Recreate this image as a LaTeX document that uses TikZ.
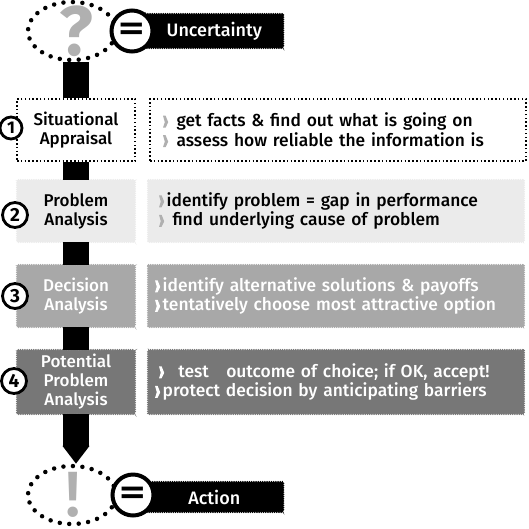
\documentclass[tikz,border=0pt]{standalone}
\usepackage{fontspec}
\setmainfont{Fira Sans}[UprightFont=* Medium, BoldFont=* Bold]
\newfontfamily\dejavu{DejaVu Sans}
\usetikzlibrary{shapes.geometric,decorations.pathmorphing,arrows.meta}

\definecolor{paleg}{HTML}{EBEBEB}
\definecolor{midg}{HTML}{A8A8A8}
\definecolor{darkg}{HTML}{777777}
\definecolor{markg}{HTML}{B0B0B0}

% bullet in front of each line
\newcommand{\tick}[1]{\tikz[x=1pt, y=1pt, baseline=0pt] \fill[#1] (0,-1) -- (2.6,-1) -- (5.2,4.5) -- (2.6,11) -- (0,11) -- (1.8,4.5) -- cycle;\hspace{2.5pt}}

\tikzset{
  stamp/.style={decorate, decoration={zigzag, segment length=2.2pt, amplitude=0.7pt}, line width=0.6pt},
  dotbox/.style={draw, line width=1.8pt, dash pattern=on 1.5pt off 2.3pt, fill=white},
  stepbox/.style={minimum width=118pt, minimum height=62pt, inner sep=2pt, align=center, font=\fontsize{17}{19}\selectfont},
  infobox/.style={minimum width=376pt, minimum height=62pt, text width=362pt, inner xsep=7pt, align=left, font=\fontsize{17.4}{19.5}\selectfont},
  numc/.style={circle, draw, line width=2.8pt, fill=white, minimum size=25pt, inner sep=0pt, font=\fontsize{19}{19}\selectfont\bfseries},
  dotring/.style={ellipse, draw, line width=4.5pt, dash pattern=on 0pt off 9.5pt, line cap=round, minimum width=88pt, minimum height=58pt},
  banner/.style={anchor=west, fill=black, draw=black, stamp, text=white, minimum width=138pt, minimum height=34pt, inner sep=0pt, font=\fontsize{18}{18}\selectfont},
  eqc/.style={circle, draw, line width=4pt, fill=white, minimum size=41pt, inner sep=0pt, font=\dejavu\bfseries\fontsize{34}{34}\selectfont},
  bar/.style={line width=26pt},
}

\begin{document}
\begin{tikzpicture}[x=1pt, y=-1pt]
    \useasboundingbox (0,0) rectangle (529,528);

    % Uncertainty
    \node[dotring] (unc) at (72,31) {};
    \node[text=markg, inner sep=0pt, font=\fontsize{70}{70}\selectfont\bfseries] (qm) at (76,31) {?};
    \node[banner] (ub) at (145,31) {Uncertainty};
    \node[eqc] (ueq) at (132,31) {=};

    % 1 Situational Appraisal
    \node[stepbox, dotbox] (sa) at (76,130) {Situational\\Appraisal};
    \node[infobox, dotbox] (sai) at (338,130) {\hspace{6pt}\tick{markg}\ get facts \& find out what is going on\\\hspace{6pt}\tick{markg}\ assess how reliable the information is};
    \node[numc, minimum size=22pt, font=\fontsize{17}{17}\selectfont\bfseries] (n1) at (11,128) {1};

    % 2 Problem Analysis
    \node[stepbox, stamp, fill=paleg, draw=paleg] (pa) at (76,211) {Problem\\Analysis};
    \node[infobox, stamp, fill=paleg, draw=paleg] (pai) at (336,211) {\hspace{4pt}\tick{markg}identify problem = gap in performance\\\hspace{4pt}\tick{markg}\ find underlying cause of problem};
    \node[numc] (n2) at (15,215) {2};

    % 3 Decision Analysis
    \node[stepbox, stamp, fill=midg, draw=midg, text=white] (da) at (76,296) {Decision\\Analysis};
    \node[infobox, stamp, fill=midg, draw=midg, text=white] (dai) at (336,296) {\tick{white}identify alternative solutions \& payoffs\\\tick{white}tentatively choose most attractive option};
    \node[numc] (n3) at (15,296) {3};

    % 4 Potential Problem Analysis
    \node[stepbox, stamp, fill=darkg, draw=darkg, text=white, minimum height=64pt] (ppa) at (76,382) {Potential\\Problem\\Analysis};
    \node[infobox, stamp, fill=darkg, draw=darkg, text=white, minimum height=64pt] (ppai) at (336,382) {\hspace{4pt}\tick{white}\ \ test\ \ \ outcome of choice; if OK, accept!\\\tick{white}protect decision by anticipating barriers};
    \node[numc] (n4) at (14,381) {4};

    % Action
    \node[dotring] (act) at (72,495) {};
    \node[text=markg, inner sep=0pt, font=\fontsize{64}{64}\selectfont] (em) at (73,495) {!};
    \node[banner, minimum height=30pt] (ab) at (145,497) {Action};
    \node[eqc] (aeq) at (133,495) {=};

    % Connectors
    \draw[bar] (sa.north |- unc.south) -- (sa.north);
    \draw[bar] (sa.south) -- (pa.north);
    \draw[bar] (pa.south) -- (da.north);
    \draw[bar] (da.south) -- (ppa.north);
    \draw[bar, -{Triangle[length=18pt, width=26pt]}] (ppa.south) -- (ppa.south |- act.north);
\end{tikzpicture}
\end{document}
